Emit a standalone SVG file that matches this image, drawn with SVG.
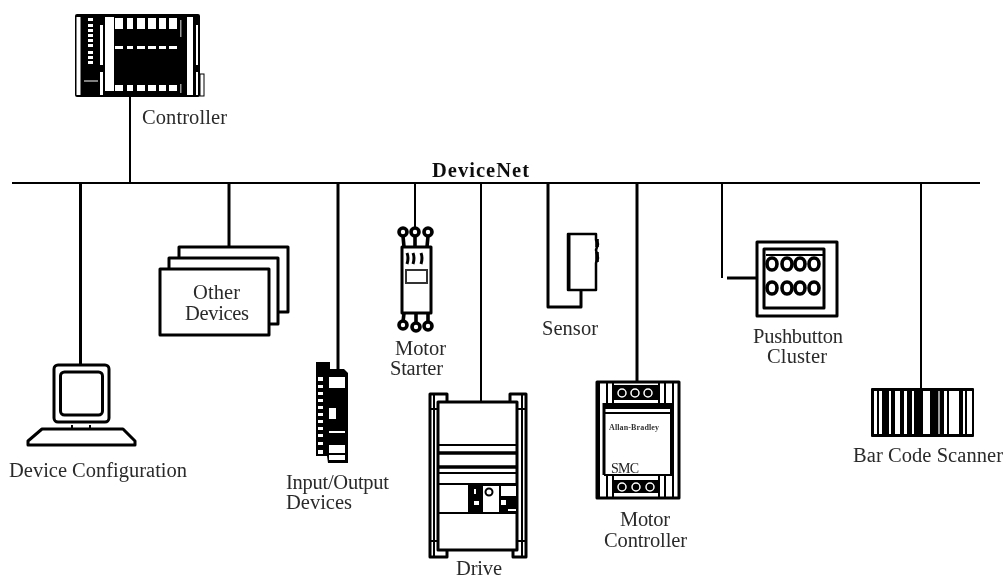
<svg xmlns="http://www.w3.org/2000/svg" width="1004" height="579" viewBox="0 0 1004 579">
<defs><filter id="soft" x="-2%" y="-2%" width="104%" height="104%"><feGaussianBlur stdDeviation="0.6"/></filter></defs>
<style>
.t{font-family:"Liberation Serif","Times New Roman",serif;font-size:20.5px;fill:#2a2a2a}
.b{font-weight:bold;fill:#111}
.l{fill:none;stroke:#000;stroke-width:3;stroke-linejoin:round}
.h{fill:none;stroke:#000;stroke-width:3.600;stroke-linejoin:round}
.n{fill:none;stroke:#000;stroke-width:2}
.w{fill:#fff;stroke:#000;stroke-width:3;stroke-linejoin:round}
.f{fill:#000}
.p{fill:#fff}
</style>
<rect width="1004" height="579" fill="#fff"/>
<g filter="url(#soft)">
<g id="connectors">
<path class="n" d="M12 183H980"/>
<path class="n" d="M130 97V183"/>
<path class="l" d="M80.500 183V366"/>
<path class="l" d="M229 183V247"/>
<path class="l" d="M338 183V369"/>
<path class="n" d="M415 183V229"/>
<path class="n" d="M481 183V401"/>
<path class="l" d="M548 183V307H581V290"/>
<path class="l" d="M637 183V382"/>
<path class="n" d="M722 183V278"/>
<path class="l" d="M727 278H757"/>
<path class="n" d="M921 183V389"/>
</g>
<g id="controller">
<rect class="f" x="75" y="14" width="125" height="83" rx="2"/>
<rect class="n" x="200" y="74" width="4" height="22" style="stroke-width:1"/>
<g class="p">
<rect x="76.500" y="17" width="4" height="78"/>
<rect x="88" y="18" width="5" height="3"/><rect x="88" y="24" width="5" height="3"/><rect x="88" y="29" width="5" height="3"/><rect x="88" y="34" width="5" height="3"/><rect x="88" y="39" width="5" height="3"/><rect x="88" y="44" width="5" height="3"/><rect x="88" y="51" width="5" height="3"/><rect x="88" y="56" width="5" height="3"/><rect x="88" y="61" width="5" height="3"/>
<rect x="84" y="80.500" width="14" height="1"/>
<rect x="100" y="25" width="3" height="40"/><rect x="100" y="72" width="3" height="23"/>
<rect x="105" y="17" width="9" height="74"/>
<path d="M115 18h8v11h-8zM127 18h6v11h-6zM137 18h8v11h-8zM148 18h8v11h-8zM159 18h7v11h-7zM169 18h8v11h-8z"/>
<path d="M115 46h8v3h-8zM127 46h6v3h-6zM137 46h8v3h-8zM148 46h8v3h-8zM159 46h7v3h-7zM169 46h8v3h-8z"/>
<path d="M115 85h8v6h-8zM127 85h6v6h-6zM137 85h8v6h-8zM148 85h8v6h-8zM159 85h7v6h-7zM169 85h8v6h-8z"/>
<rect x="187" y="17" width="6" height="78"/>
<rect x="196" y="25" width="2" height="40"/><rect x="196" y="72" width="2" height="23"/>
<rect x="180" y="20" width="1.500" height="17" opacity=".6"/><rect x="180" y="84" width="1.500" height="9" opacity=".6"/>
</g>
<text class="t" x="142" y="124" textLength="85">Controller</text>
</g>
<g id="devicenet-label"><text class="t b" x="432" y="177" textLength="97">DeviceNet</text></g>
<g id="device-configuration">
<rect class="w" x="54" y="365" width="55" height="57" rx="4"/>
<rect class="w" x="60.500" y="372" width="42" height="43" rx="4"/>
<path class="w" d="M42 429H123L135 441V445H28V441Z"/>
<path class="n" d="M72 425V429M90 425V429"/>
<text class="t" x="9" y="477" textLength="178">Device Configuration</text>
</g>
<g id="other-devices">
<rect class="w" x="179" y="247" width="109" height="65"/>
<rect class="w" x="169" y="258" width="109" height="66"/>
<rect class="w" x="160" y="269" width="109" height="66"/>
<text class="t" x="193" y="299" textLength="47">Other</text>
<text class="t" x="185" y="320" textLength="64">Devices</text>
</g>
<g id="input-output-devices">
<path class="f" d="M316 362H330V369H344L348 373V463H328L327 456H316Z"/>
<g class="p">
<path d="M318 377h5v4h-5zM318 385h5v3h-5zM318 392h5v3h-5zM318 399h5v3h-5zM318 406h5v3h-5zM318 413h5v3h-5zM318 420h5v3h-5zM318 427h5v3h-5zM318 434h5v3h-5zM318 442h5v3h-5zM318 450h5v4h-5z"/>
<rect x="329" y="377" width="16" height="11"/><rect x="329" y="408" width="7" height="11"/><rect x="329" y="431" width="16" height="2"/><rect x="329" y="445" width="16" height="8"/><rect x="329" y="455" width="16" height="5"/>
</g>
<text class="t" x="286" y="489" textLength="103">Input/Output</text>
<text class="t" x="286" y="509" textLength="66">Devices</text>
</g>
<g id="motor-starter">
<rect class="w" x="402" y="247" width="29" height="66"/>
<rect class="n" x="406" y="270" width="21" height="13" style="stroke:#333"/>
<path class="h" d="M403 236L404 247M415 236V247M428 236L427 247M404 313L403 322M416 313V323M428 313V322"/>
<path class="l" d="M407 253Q409 258 407 264M413 253Q415 258 413 264M421 253Q423 258 421 264"/>
<circle class="h" cx="403" cy="232" r="4"/><circle class="h" cx="415" cy="232" r="4"/><circle class="h" cx="428" cy="232" r="4"/>
<circle class="h" cx="403" cy="325" r="4"/><circle class="h" cx="416" cy="327" r="4"/><circle class="h" cx="428" cy="326" r="4"/>
<text class="t" x="395" y="355" textLength="51">Motor</text>
<text class="t" x="390" y="375" textLength="53">Starter</text>
</g>
<g id="drive">
<path class="l" d="M447 401V394H430V557H447V550M510 401V394H526V557H513V550"/>
<path class="n" d="M434 394V557M522 394V557M430 409H438M430 541H438M517 409H526M517 541H526"/>
<rect class="w" x="438" y="402" width="79" height="148"/>
<path class="n" d="M438 445H517M438 473H517M438 484H517M438 513H517"/>
<path class="h" d="M438 453H517M438 467H517"/>
<rect class="f" x="468" y="484" width="49" height="29"/>
<g class="p">
<rect x="483" y="486" width="16" height="26"/><rect x="501" y="486" width="15" height="10"/>
<rect x="474" y="501" width="5" height="4"/><rect x="501" y="500" width="5" height="5"/><rect x="508" y="509" width="8" height="2"/><rect x="474" y="489" width="2" height="5"/>
</g>
<circle cx="489" cy="492" r="3.500" fill="#fff" stroke="#000" stroke-width="2"/>
<text class="t" x="456" y="574.500" textLength="46">Drive</text>
</g>
<g id="sensor">
<path class="w" d="M568 234H596V240L598 244L596 250L598 258L596 263V290H568Z" style="stroke-width:2.500"/>
<path class="h" d="M597 239V247M597 252V262"/>
<path class="l" d="M569 234V290"/>
<text class="t" x="542" y="335" textLength="56">Sensor</text>
</g>
<g id="motor-controller">
<rect class="w" x="597" y="382" width="82" height="116"/>
<path class="n" d="M599 382V498M607 382V403M613 382V403M673 382V498M665 382V403M659 382V403M607 475V498M613 475V498M659 475V498M665 475V498"/>
<path d="M604 403V475" stroke="#000" stroke-width="3"/>
<path d="M671 403V475" stroke="#000" stroke-width="2"/>
<rect class="f" x="604" y="403" width="68" height="6"/>
<path class="n" d="M604 413H671M604 475H672"/>
<rect class="f" x="613" y="385" width="46" height="15"/>
<rect class="f" x="613" y="480" width="47" height="13"/>
<g fill="none" stroke="#fff" stroke-width="1.500">
<circle cx="622" cy="393" r="4"/><circle cx="635" cy="393" r="4"/><circle cx="648" cy="393" r="4"/>
<circle cx="622" cy="487" r="4"/><circle cx="636" cy="487" r="4"/><circle cx="650" cy="487" r="4"/>
</g>
<text x="609" y="430" textLength="50" style="font-family:'Liberation Serif',serif;font-size:8px;font-weight:bold;fill:#333">Allan-Bradley</text>
<text x="611" y="473" textLength="28" style="font-family:'Liberation Serif',serif;font-size:14px;fill:#222">SMC</text>
<text class="t" x="620" y="526" textLength="50">Motor</text>
<text class="t" x="604" y="547" textLength="83">Controller</text>
</g>
<g id="pushbutton-cluster">
<rect class="l" x="757" y="242" width="80" height="74"/>
<rect class="l" x="764" y="249" width="60" height="59"/>
<path class="n" d="M766 255H823"/>
<g class="h"><ellipse cx="772" cy="264" rx="5" ry="6"/><ellipse cx="787" cy="264" rx="5" ry="6"/><ellipse cx="800" cy="264" rx="5" ry="6"/><ellipse cx="814" cy="264" rx="5" ry="6"/><ellipse cx="772" cy="288" rx="5" ry="6"/><ellipse cx="787" cy="288" rx="5" ry="6"/><ellipse cx="800" cy="288" rx="5" ry="6"/><ellipse cx="814" cy="288" rx="5" ry="6"/></g>
<text class="t" x="753" y="343" textLength="90">Pushbutton</text>
<text class="t" x="767" y="363" textLength="60">Cluster</text>
</g>
<g id="bar-code-scanner">
<rect class="f" x="871" y="388" width="103" height="49" rx="1"/>
<g class="p">
<rect x="874" y="391" width="3" height="43"/><rect x="879" y="391" width="3" height="43"/><rect x="889" y="391" width="2" height="43"/><rect x="895" y="391" width="5" height="43"/><rect x="904" y="391" width="3" height="43"/><rect x="912" y="391" width="2" height="43"/><rect x="923" y="391" width="7" height="43"/><rect x="938" y="391" width="2" height="43" opacity=".6"/><rect x="944" y="391" width="3" height="43"/><rect x="949" y="391" width="10" height="43"/><rect x="963" y="391" width="2" height="43"/><rect x="967" y="391" width="5" height="43"/>
</g>
<text class="t" x="853" y="462" textLength="150">Bar Code Scanner</text>
</g>
</g>
</svg>
